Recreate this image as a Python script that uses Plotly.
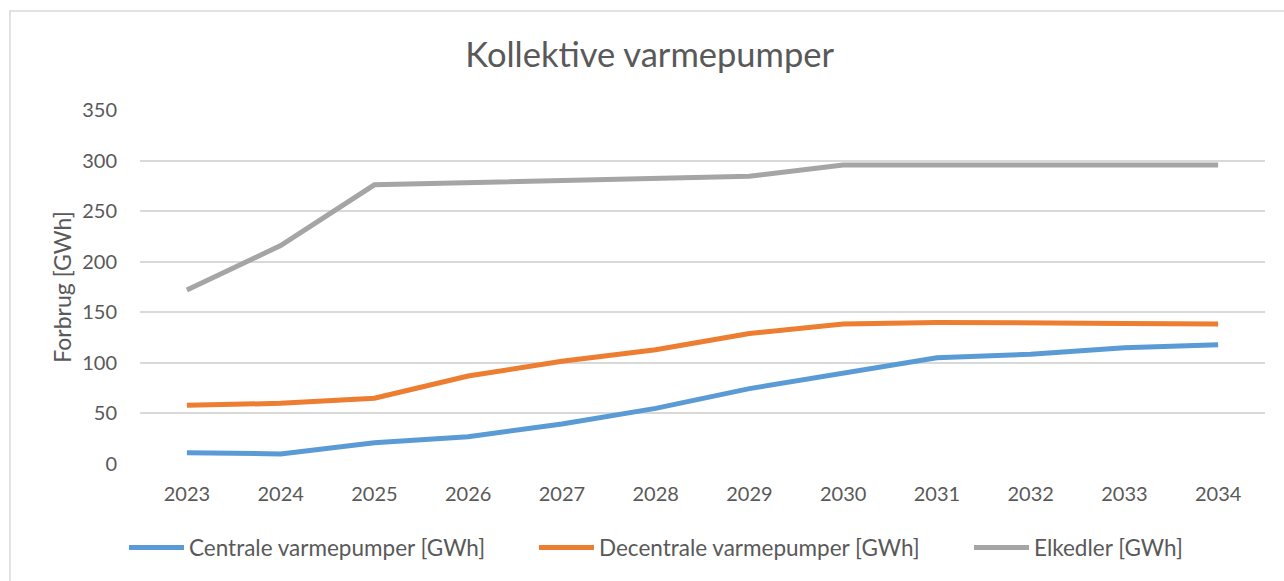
import plotly.graph_objects as go

years = ["2023", "2024", "2025", "2026", "2027", "2028", "2029", "2030", "2031", "2032", "2033", "2034"]
centrale = [11, 10, 21, 27, 39.5, 55, 74.5, 89.5, 105, 108.5, 115, 118]
decentrale = [58, 60, 65, 87, 101.5, 113, 129, 138.5, 140, 140, 139, 138.5]
elkedler = [172, 216, 276, 278, 280, 282, 284.5, 295.5, 295.5, 295.5, 295.5, 295.5]

series = [
    ("Centrale varmepumper [GWh]", centrale, "#5B9BD5", "legend"),
    ("Decentrale varmepumper [GWh]", decentrale, "#ED7D31", "legend2"),
    ("Elkedler [GWh]", elkedler, "#A5A5A5", "legend3"),
]

font_family = "Lato, 'Open Sans', sans-serif"
text_color = "#595959"

fig = go.Figure()
for name, values, color, leg in series:
    fig.add_trace(go.Scatter(
        x=years,
        y=values,
        mode="lines",
        name=name,
        legend=leg,
        line=dict(color=color, width=5),
    ))

# Chart border (Excel-style frame)
fig.add_shape(
    type="rect", xref="paper", yref="paper",
    x0=-0.1156, x1=1.03, y0=-0.4, y1=1.2797,
    line=dict(color="#d9d9d9", width=1.5),
    fillcolor="rgba(0,0,0,0)", layer="below",
)

# one legend per series so the entries sit where Excel puts them
legend_style = dict(
    orientation="h",
    xanchor="left", xref="container",
    y=0.057, yanchor="middle", yref="container",
    font=dict(size=22.5, color=text_color),
    itemwidth=55,
    bgcolor="rgba(0,0,0,0)",
)

fig.update_layout(
    width=1284,
    height=581,
    margin=dict(l=140, r=19, t=110, b=117),
    paper_bgcolor="white",
    plot_bgcolor="white",
    font=dict(family=font_family, color=text_color, size=20),
    title=dict(
        text="Kollektive varmepumper",
        x=0.506, xanchor="center", xref="container",
        y=0.905, yanchor="middle", yref="container",
        font=dict(size=34.5, color=text_color, family=font_family),
    ),
    xaxis=dict(
        type="category",
        range=[-0.5, 11.5],
        showgrid=False,
        showline=False,
        ticks="",
        ticklabelstandoff=16,
        tickfont=dict(size=20, color=text_color),
    ),
    yaxis=dict(
        range=[0, 350],
        dtick=50,
        showgrid=True,
        gridcolor="#d9d9d9",
        gridwidth=1.5,
        zeroline=False,
        showline=False,
        ticks="",
        ticklabelstandoff=22,
        tickfont=dict(size=20, color=text_color),
        title=dict(text="Forbrug [GWh]", font=dict(size=23, color=text_color), standoff=4),
    ),
    legend=dict(legend_style, x=124 / 1284),
    legend2=dict(legend_style, x=534 / 1284),
    legend3=dict(legend_style, x=969 / 1284),
    showlegend=True,
)

fig.write_html(
    "out.html",
    config={"displayModeBar": False},
    post_script="document.body.style.margin='0px';",
)
